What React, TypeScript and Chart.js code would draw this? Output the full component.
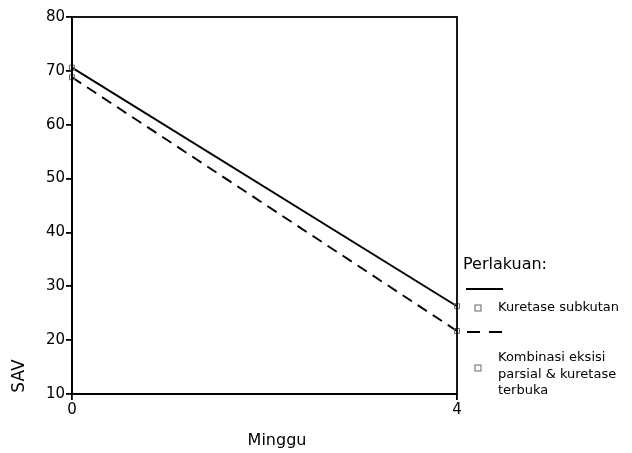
import React, { useEffect, useRef } from "react";
import { Chart, registerables } from "chart.js";

Chart.register(...registerables);

const weeks = [0, 4];
const kuretaseSubkutan = [70.6, 26.3];
const kombinasiEksisi = [68.8, 21.7];
const yTicks = [10, 20, 30, 40, 50, 60, 70, 80];
const xTicks = [0, 4];

const yTitle = "SAV";
const xTitle = "Minggu";
const legendTitle = "Perlakuan:";
const legendItem1 = ["Kuretase subkutan"];
const legendItem2 = ["Kombinasi eksisi", "parsial & kuretase", "terbuka"];

const FONT = "'DejaVu Sans', sans-serif";
const INK = "#000";

const decorPlugin = {
  id: "decor",
  afterDraw(chart: any) {
    const { ctx, chartArea } = chart;
    const { left, right, top, bottom } = chartArea;
    ctx.save();
    // frame
    ctx.strokeStyle = INK;
    ctx.lineWidth = 1.8;
    ctx.setLineDash([]);
    ctx.strokeRect(left, top, right - left, bottom - top);

    // axis titles
    ctx.fillStyle = INK;
    ctx.font = `17px ${FONT}`;
    ctx.textAlign = "center";
    ctx.textBaseline = "middle";
    ctx.save();
    ctx.translate(20, 376);
    ctx.rotate(-Math.PI / 2);
    ctx.fillText(yTitle, 0, 0);
    ctx.restore();
    ctx.font = `16px ${FONT}`;
    ctx.fillText(xTitle, 277, 441);

    // legend
    ctx.textAlign = "left";
    ctx.font = `16px ${FONT}`;
    ctx.fillText(legendTitle, 463, 265);

    const lx = right + 9;
    ctx.lineWidth = 1.8;
    ctx.beginPath();
    ctx.moveTo(lx, 289);
    ctx.lineTo(lx + 37, 289);
    ctx.stroke();

    ctx.setLineDash([13, 9]);
    ctx.beginPath();
    ctx.moveTo(lx + 1, 332);
    ctx.lineTo(lx + 37, 332);
    ctx.stroke();
    ctx.setLineDash([]);

    ctx.strokeStyle = "#666";
    ctx.lineWidth = 1;
    ctx.strokeRect(475, 305, 6, 6);
    ctx.strokeRect(475, 365, 6, 6);

    ctx.font = `13px ${FONT}`;
    legendItem1.forEach((t, i) => ctx.fillText(t, 498, 308 + i * 16.5));
    legendItem2.forEach((t, i) => ctx.fillText(t, 498, 358 + i * 16.5));
    ctx.restore();
  },
};

export default function App() {
  const ref = useRef<HTMLCanvasElement>(null);
  useEffect(() => {
    if (!ref.current) return;
    const chart = new Chart(ref.current, {
      type: "line",
      data: {
        datasets: [
          {
            label: legendItem1.join(" "),
            data: weeks.map((w, i) => ({ x: w, y: kuretaseSubkutan[i] })),
            borderColor: INK,
            borderWidth: 1.9,
            pointStyle: "rect",
            pointRadius: 3.5,
            pointBorderColor: "#666",
            pointBorderWidth: 1,
            pointBackgroundColor: "rgba(0,0,0,0)",
            clip: false as any,
          },
          {
            label: legendItem2.join(" "),
            data: weeks.map((w, i) => ({ x: w, y: kombinasiEksisi[i] })),
            borderColor: INK,
            borderWidth: 1.9,
            borderDash: [11, 7],
            pointStyle: "rect",
            pointRadius: 3.5,
            pointBorderColor: "#666",
            pointBorderWidth: 1,
            pointBackgroundColor: "rgba(0,0,0,0)",
            clip: false as any,
          },
        ],
      },
      options: {
        animation: false,
        responsive: false,
        layout: { padding: { left: 0, top: 17, right: 175, bottom: 0 } },
        plugins: {
          legend: { display: false },
          tooltip: { enabled: false },
          title: { display: false },
        },
        scales: {
          x: {
            type: "linear",
            min: 0,
            max: 4,
            afterBuildTicks: (s: any) => {
              s.ticks = xTicks.map((v) => ({ value: v }));
            },
            afterFit: (s: any) => {
              s.height = 59;
            },
            grid: {
              display: true,
              drawOnChartArea: false,
              drawTicks: true,
              tickLength: 6,
              color: INK,
              lineWidth: 1.8,
            },
            border: { display: true, color: INK, width: 1.8 },
            ticks: {
              color: INK,
              font: { family: FONT, size: 15 },
              padding: 1,
              maxRotation: 0,
            },
          },
          y: {
            type: "linear",
            min: 10,
            max: 80,
            afterBuildTicks: (s: any) => {
              s.ticks = yTicks.map((v) => ({ value: v }));
            },
            afterFit: (s: any) => {
              s.width = 72;
            },
            grid: {
              display: true,
              drawOnChartArea: false,
              drawTicks: true,
              tickLength: 6,
              color: INK,
              lineWidth: 1.8,
            },
            border: { display: true, color: INK, width: 1.8 },
            ticks: {
              color: INK,
              font: { family: FONT, size: 15 },
              padding: 1,
            },
          },
        },
      },
      plugins: [decorPlugin],
    });
    return () => chart.destroy();
  }, []);
  return (
    <div style={{ position: "fixed", left: 0, top: 0, width: 632, height: 453, background: "#fff" }}>
      <canvas ref={ref} width={632} height={453} style={{ display: "block" }} />
    </div>
  );
}
